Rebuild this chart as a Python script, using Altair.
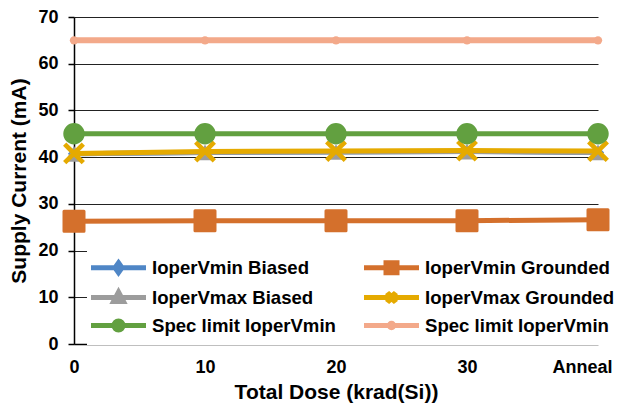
import altair as alt
import pandas as pd

categories = ["0", "10", "20", "30", "Anneal"]
series_names = [
    "IoperVmin Biased",
    "IoperVmin Grounded",
    "IoperVmax Biased",
    "IoperVmax Grounded",
    "Spec limit IoperVmin",
    "Spec limit IoperVmin ",
]
vmin_biased = [40.7, 41.0, 41.1, 41.2, 41.0]
vmin_grounded = [26.3, 26.4, 26.4, 26.4, 26.6]
vmax_biased = [40.7, 41.0, 41.1, 41.2, 41.0]
vmax_grounded = [40.8, 41.2, 41.3, 41.4, 41.3]
spec_45 = [45, 45, 45, 45, 45]
spec_65 = [65, 65, 65, 65, 65]
all_values = [vmin_biased, vmin_grounded, vmax_biased, vmax_grounded, spec_45, spec_65]

colors = ["#4F86C6", "#D4702C", "#9C9C9C", "#E5AA00", "#62A040", "#F3A98A"]

rows = []
for s, vals in zip(series_names, all_values):
    for c, v in zip(categories, vals):
        rows.append({"series": s, "dose": c, "value": v})
df = pd.DataFrame(rows)

FONT = "Liberation Sans"

XPATH = "M-1,-0.7L-0.7,-1L0,-0.3L0.7,-1L1,-0.7L0.3,0L1,0.7L0.7,1L0,0.3L-0.7,1L-1,0.7L-0.3,0Z"
marker_style = [
    dict(shape="diamond", size=150, width=5),
    dict(shape="square", size=400, strokeWidth=3, width=5),
    dict(shape="triangle-up", size=330, width=5),
    dict(shape=XPATH, size=480, width=5),
    dict(shape="circle", size=460, width=5),
    dict(shape="circle", size=70, width=6),
]


def circ(r):
    return f"M{r},0A{r},{r},0,1,1,-{r},0A{r},{r},0,1,1,{r},0Z"


# legend symbol: nominal 20px box (half = 10px per unit); line spans 56px
LINE = "M-2.75,0L2.75,0"
legend_paths = [
    LINE + "M0,-0.5L0.35,0L0,0.5L-0.35,0Z",
    LINE + "M-0.55,-0.5L0.55,-0.5L0.55,0.5L-0.55,0.5Z",
    LINE + "M0,-0.55L0.5,0.4L-0.5,0.4Z",
    LINE + "M-0.4,-0.45L0,-0.1L0.4,-0.45L0.22,0L0.4,0.45L0,0.1L-0.4,0.45L-0.22,0Z",
    LINE + circ(0.45),
    LINE + circ(0.22),
]

x_enc = alt.X(
    "dose:O",
    sort=categories,
    scale=alt.Scale(domain=categories, padding=0),
    axis=alt.Axis(
        title="Total Dose (krad(Si))",
        labelAngle=0,
        ticks=False,
        tickSize=0,
        labelPadding=14,
        titlePadding=5,
        labelAlign={"condition": {"test": "datum.value == 'Anneal'", "value": "right"}, "value": "center"},
        labelOffset={"condition": {"test": "datum.value == 'Anneal'", "value": 14}, "value": 0},
    ),
)
y_enc = alt.Y(
    "value:Q",
    scale=alt.Scale(domain=[0, 70], nice=False),
    axis=alt.Axis(
        title="Supply Current (mA)",
        values=[0, 10, 20, 30, 40, 50, 60, 70],
        tickSize=6,
        labelPadding=10,
        titlePadding=8,
    ),
)

base = alt.Chart(df)
layers = []
for s, c, ms in zip(series_names, colors, marker_style):
    sub = base.transform_filter(alt.datum.series == s)
    layers.append(
        sub.mark_line(color=c, strokeWidth=ms["width"], strokeCap="round", strokeJoin="round").encode(x=x_enc, y=y_enc)
    )
    layers.append(
        sub.mark_point(
            filled=True,
            fill=c,
            stroke=c,
            strokeWidth=ms.get("strokeWidth", 0),
            strokeJoin="round",
            opacity=1,
            shape=ms["shape"],
            size=ms["size"],
        ).encode(x=x_enc, y=y_enc)
    )

leg = alt.Legend(
    title=None,
    orient="none",
    direction="horizontal",
    legendX=13,
    legendY=233,
    columns=2,
    columnPadding=18,
    rowPadding=-1,
    padding=5,
    fillColor="white",
    symbolSize=400,
    symbolOffset=14,
    symbolStrokeWidth=5,
    labelFont=FONT,
    labelFontSize=18.6,
    labelFontWeight="bold",
    labelColor="black",
    labelOffset=21,
    labelLimit=400,
)
legend_layer = base.transform_filter("false").mark_point(filled=True, opacity=1).encode(
    fill=alt.Fill("series:N", scale=alt.Scale(domain=series_names, range=colors), legend=leg),
    stroke=alt.Stroke("series:N", scale=alt.Scale(domain=series_names, range=colors), legend=leg),
    shape=alt.Shape("series:N", scale=alt.Scale(domain=series_names, range=legend_paths), legend=leg),
)

chart = (
    alt.layer(*layers, legend_layer)
    .properties(
        width=524,
        height=327,
        autosize=alt.AutoSizeParams(type="none"),
        padding={"left": 66, "top": 9, "right": 17, "bottom": 59},
    )
    .configure_view(stroke=None)
    .configure_axis(
        labelFont=FONT,
        titleFont=FONT,
        labelFontSize=18,
        titleFontSize=21,
        labelFontWeight="bold",
        titleFontWeight="bold",
        labelColor="black",
        titleColor="black",
        gridColor="#222222",
        gridWidth=1,
        domainColor="black",
        domainWidth=1.5,
        tickColor="black",
        tickWidth=1.5,
        gridOpacity=1,
    )
)

chart.save("out.html", embed_options={"renderer": "svg", "actions": False})
